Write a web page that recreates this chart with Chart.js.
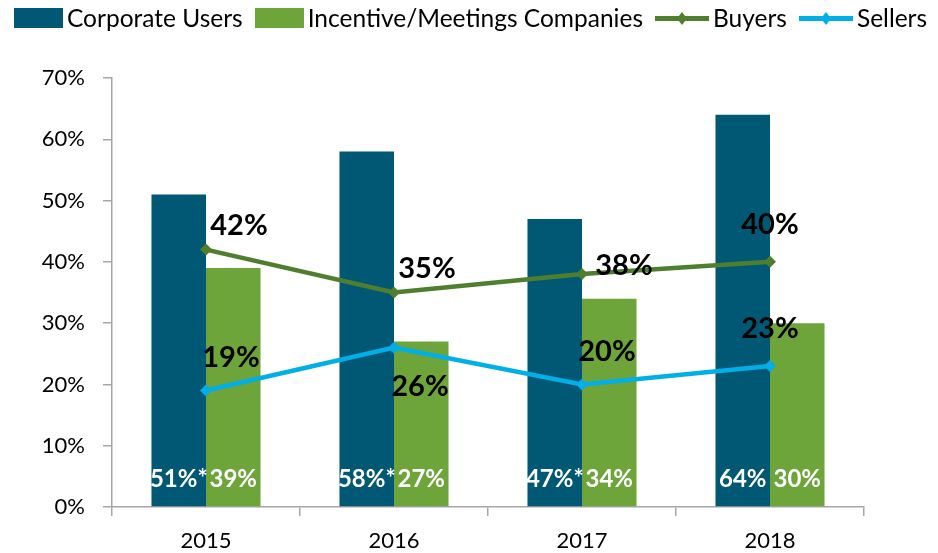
<!DOCTYPE html>
<html>
<head>
<meta charset="utf-8">
<script src="https://cdn.jsdelivr.net/npm/chart.js@4.4.1/dist/chart.umd.min.js"></script>
<style>
  html, body { margin: 0; padding: 0; background: #fff; }
  #wrap { position: relative; width: 938px; height: 553px; font-family: Lato, 'Open Sans', sans-serif; }
  #legend { position: absolute; top: 3px; left: 14px; display: flex; align-items: center; font-size: 24.5px; color: #000; white-space: nowrap; }
  #legend .item { display: flex; align-items: center; margin-right: 12px; }
  #legend .swatch { margin-right: 4px; }
</style>
</head>
<body>
<div id="wrap">
  <div id="legend"></div>
  <canvas id="chart" width="938" height="553"></canvas>
</div>
<script>
const years = ['2015', '2016', '2017', '2018'];
const corporateUsers = [51, 58, 47, 64];
const corporateNote = ['*', '*', '*', ''];
const incentiveCompanies = [39, 27, 34, 30];
const buyers = [42, 35, 38, 40];
const sellers = [19, 26, 20, 23];
const yTicks = [0, 10, 20, 30, 40, 50, 60, 70];

// where each line label sits relative to its point
const buyersAlign = ['ne', 'ne', 'e', 'n'];
const sellersAlign = ['nne', 'se', 'nne', 'n'];

const colors = {
    corporate: '#005874',
    incentive: '#6da53b',
    buyers: '#4f7f2e',
    sellers: '#00aee8',
    axis: '#a6a6a6',
};

const font = 'Lato, "Open Sans", sans-serif';

const offsets = {
    ne: [33, -24],
    nne: [25, -33],
    e: [42, -8],
    n: [0, -37],
    se: [26, 39],
};

// Bold values next to line points, white values at the foot of each bar.
const valueLabels = {
    id: 'valueLabels',
    afterDatasetsDraw(chart) {
        const { ctx } = chart;
        ctx.save();
        ctx.textBaseline = 'middle';
        ctx.textAlign = 'center';
        chart.data.datasets.forEach((ds, i) => {
            const meta = chart.getDatasetMeta(i);
            meta.data.forEach((el, j) => {
                if (ds.type === 'line') {
                    const [dx, dy] = offsets[ds.align[j]];
                    ctx.font = 'bold 29px ' + font;
                    ctx.fillStyle = '#000';
                    ctx.fillText(ds.data[j] + '%', el.x + dx, el.y + dy);
                } else {
                    ctx.font = 'bold 24px ' + font;
                    ctx.fillStyle = '#fff';
                    const note = ds.notes ? ds.notes[j] : '';
                    ctx.fillText(ds.data[j] + '%' + note, el.x, chart.chartArea.bottom - 28);
                }
            });
        });
        ctx.restore();
    },
};

const chart = new Chart(document.getElementById('chart'), {
    data: {
        labels: years,
        datasets: [
            {
                type: 'line',
                label: 'Buyers',
                data: buyers,
                align: buyersAlign,
                borderColor: colors.buyers,
                backgroundColor: colors.buyers,
                borderWidth: 4.5,
                pointStyle: 'rectRot',
                pointRadius: 6,
                pointBorderWidth: 0,
                order: 0,
            },
            {
                type: 'line',
                label: 'Sellers',
                data: sellers,
                align: sellersAlign,
                borderColor: colors.sellers,
                backgroundColor: colors.sellers,
                borderWidth: 4.5,
                pointStyle: 'rectRot',
                pointRadius: 6,
                pointBorderWidth: 0,
                order: 0,
            },
            {
                type: 'bar',
                label: 'Corporate Users',
                data: corporateUsers,
                notes: corporateNote,
                backgroundColor: colors.corporate,
                categoryPercentage: 0.58,
                barPercentage: 1,
                order: 1,
            },
            {
                type: 'bar',
                label: 'Incentive/Meetings Companies',
                data: incentiveCompanies,
                backgroundColor: colors.incentive,
                categoryPercentage: 0.58,
                barPercentage: 1,
                order: 1,
            },
        ],
    },
    options: {
        responsive: false,
        animation: false,
        layout: { padding: { top: 78, right: 74, left: 0, bottom: 0 } },
        plugins: { legend: { display: false }, tooltip: { enabled: false } },
        scales: {
            x: {
                grid: { drawOnChartArea: false, color: colors.axis, lineWidth: 1.5, tickLength: 9, offset: true },
                border: { color: colors.axis, width: 1.5 },
                ticks: { color: '#000', font: { family: font, size: 22 }, padding: 12 },
                afterFit: (s) => { s.height = 46; },
            },
            y: {
                min: 0,
                max: 70,
                afterBuildTicks: (s) => { s.ticks = yTicks.map((v) => ({ value: v })); },
                grid: { drawOnChartArea: false, color: colors.axis, lineWidth: 1.5, tickLength: 9 },
                border: { color: colors.axis, width: 1.5 },
                ticks: { color: '#000', font: { family: font, size: 22 }, padding: 18, callback: (v) => v + '%' },
                afterFit: (s) => { s.width = 112; },
            },
        },
    },
    plugins: [valueLabels],
});

// HTML legend in the reference's order: bars first, then lines.
const legendOrder = [2, 3, 0, 1];
const legend = document.getElementById('legend');
legendOrder.forEach((i) => {
    const ds = chart.data.datasets[i];
    const item = document.createElement('div');
    item.className = 'item';
    const sw = document.createElement('canvas');
    sw.className = 'swatch';
    sw.width = ds.type === 'bar' ? 49 : 54;
    sw.height = 20;
    const c = sw.getContext('2d');
    if (ds.type === 'bar') {
        c.fillStyle = ds.backgroundColor;
        c.fillRect(0, 0, 49, 20);
    } else {
        c.fillStyle = ds.borderColor;
        c.fillRect(0, 8, 54, 5);
        c.beginPath();
        c.moveTo(27, 4); c.lineTo(32, 10.5); c.lineTo(27, 17); c.lineTo(22, 10.5);
        c.closePath();
        c.fill();
    }
    const txt = document.createElement('span');
    txt.textContent = ds.label;
    item.appendChild(sw);
    item.appendChild(txt);
    legend.appendChild(item);
});
</script>
</body>
</html>
